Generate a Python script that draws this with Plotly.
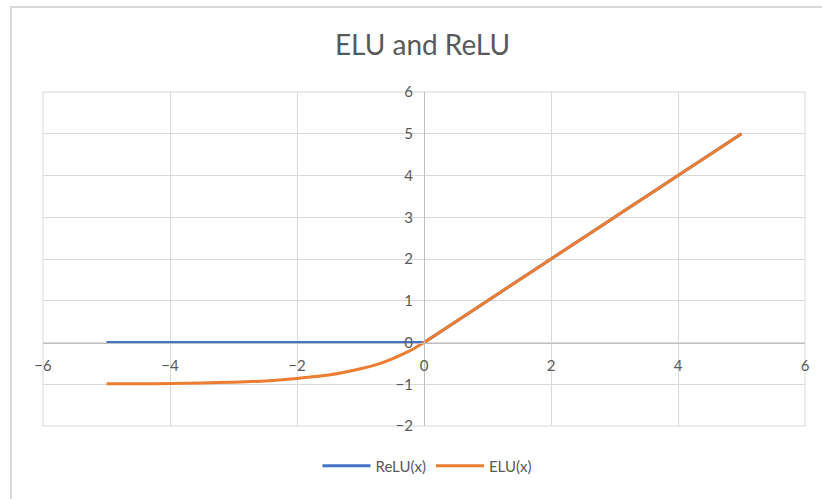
import plotly.graph_objects as go

# Sample points along x
x_vals = [-5, -4.5, -4, -3.5, -3, -2.5, -2, -1.5, -1, -0.75, -0.5, -0.25, 0,
          0.5, 1, 1.5, 2, 2.5, 3, 3.5, 4, 4.5, 5]

relu_vals = [0, 0, 0, 0, 0, 0, 0, 0, 0, 0, 0, 0, 0,
             0.5, 1, 1.5, 2, 2.5, 3, 3.5, 4, 4.5, 5]

elu_vals = [-0.99, -0.99, -0.98, -0.97, -0.95, -0.92, -0.86, -0.78, -0.63, -0.53, -0.39, -0.22, 0,
            0.5, 1, 1.5, 2, 2.5, 3, 3.5, 4, 4.5, 5]

series_names = ["ReLU(x)", "ELU(x)"]
series_colors = ["#4472C4", "#ED7D31"]

FONT = "Lato, 'Open Sans', sans-serif"
TEXT = "#595959"
GRID = "#d9d9d9"

W, H = 822, 499
L, R, T, B = 43, 17, 92, 73
plot_w = W - L - R
plot_h = H - T - B


def px_x(p):
    return (p - L) / plot_w


def px_y(p):
    return (H - B - p) / plot_h


fig = go.Figure()
fig.add_trace(go.Scatter(x=x_vals, y=relu_vals, mode="lines", name=series_names[0],
                         line=dict(color=series_colors[0], width=3)))
fig.add_trace(go.Scatter(x=x_vals, y=elu_vals, mode="lines", name=series_names[1],
                         line=dict(color=series_colors[1], width=3, shape="spline", smoothing=0.6)))

fig.update_layout(
    width=W, height=H,
    margin=dict(l=L, r=R, t=T, b=B),
    paper_bgcolor="white", plot_bgcolor="white",
    font=dict(family=FONT, size=15, color=TEXT),
    title=dict(text="ELU and ReLU", x=0.514, xanchor="center", xref="container",
               y=1 - 45 / H, yanchor="middle", yref="container",
               font=dict(family=FONT, size=28, color=TEXT)),
    xaxis=dict(range=[-6, 6], dtick=2, tick0=-6, showgrid=True, gridcolor=GRID, gridwidth=1,
               zeroline=False, showline=True, linecolor="#bfbfbf", linewidth=1,
               anchor="free", position=0.25, ticks="", ticklabelstandoff=9,
               tickfont=dict(size=15, color=TEXT)),
    yaxis=dict(range=[-2, 6], dtick=1, showgrid=True, gridcolor=GRID, gridwidth=1,
               zeroline=False, showline=True, linecolor="#bfbfbf", linewidth=1,
               anchor="free", position=0.5, ticks="", ticklabelstandoff=8,
               tickfont=dict(size=15, color=TEXT)),
    legend=dict(orientation="h", x=px_x(427), xanchor="center", y=px_y(466), yanchor="middle",
                font=dict(size=15, color=TEXT), bgcolor="rgba(0,0,0,0)",
                itemwidth=48, tracegroupgap=0),
    showlegend=True,
)

# Plot area border
fig.add_shape(type="rect", xref="paper", yref="paper", x0=0, x1=1, y0=0, y1=1,
              line=dict(color=GRID, width=1), layer="below")
# Chart frame
fig.add_shape(type="rect", xref="paper", yref="paper",
              x0=px_x(11), x1=px_x(830), y0=px_y(510), y1=px_y(7),
              line=dict(color="#d9d9d9", width=2), layer="below")

fig.write_html("out.html")
